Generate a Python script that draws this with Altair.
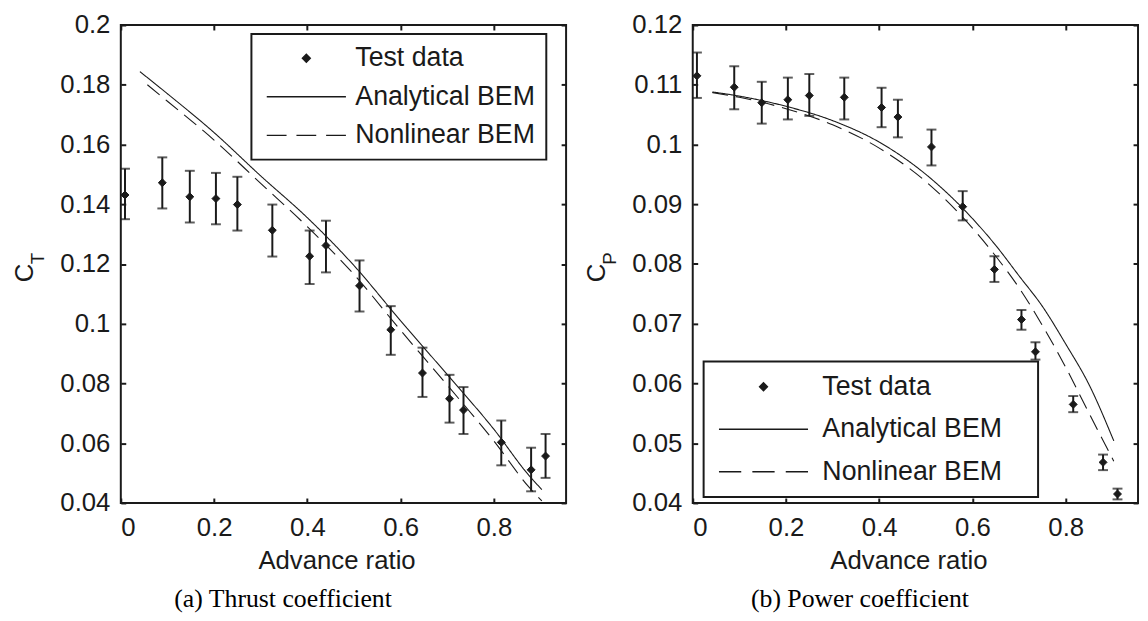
import altair as alt
import pandas as pd

# ---------------- data ----------------
advance = [0.009, 0.089, 0.148, 0.204, 0.250, 0.325, 0.405, 0.440,
           0.512, 0.579, 0.647, 0.705, 0.735, 0.816, 0.880, 0.911]

ct = [0.1431, 0.1472, 0.1425, 0.1419, 0.1399, 0.1313, 0.1226, 0.1262,
      0.1127, 0.0980, 0.0835, 0.0749, 0.0711, 0.0603, 0.0511, 0.0557]
ct_hi = [0.1519, 0.1557, 0.1512, 0.1505, 0.1492, 0.1399, 0.1312, 0.1345,
         0.1212, 0.1059, 0.0920, 0.0829, 0.0788, 0.0676, 0.0585, 0.0631]
ct_lo = [0.1350, 0.1386, 0.1339, 0.1333, 0.1312, 0.1225, 0.1133, 0.1172,
         0.1041, 0.0896, 0.0755, 0.0669, 0.0631, 0.0526, 0.0439, 0.0484]

cp = [0.1115, 0.1096, 0.1070, 0.1075, 0.1082, 0.1079, 0.1062, 0.1046,
      0.0996, 0.0896, 0.0791, 0.0707, 0.0653, 0.0565, 0.0468, 0.0415]
cp_hi = [0.1154, 0.1131, 0.1105, 0.1112, 0.1118, 0.1112, 0.1095, 0.1075,
         0.1025, 0.0922, 0.0813, 0.0723, 0.0669, 0.0579, 0.0481, 0.0424]
cp_lo = [0.1078, 0.1059, 0.1035, 0.1042, 0.1048, 0.1042, 0.1029, 0.1012,
         0.0965, 0.0873, 0.0770, 0.0690, 0.0640, 0.0552, 0.0455, 0.0406]

ct_ana_x = [0.041, 0.1, 0.2, 0.3, 0.4, 0.5, 0.6, 0.7, 0.8, 0.876, 0.903]
ct_ana_y = [0.1844, 0.1770, 0.1640, 0.1495, 0.1355, 0.1195, 0.1010, 0.0830, 0.0647, 0.0491, 0.0445]
ct_nl_x = [0.057, 0.1, 0.2, 0.3, 0.4, 0.5, 0.6, 0.7, 0.8, 0.876, 0.903]
ct_nl_y = [0.1800, 0.1745, 0.1615, 0.1470, 0.1325, 0.1165, 0.0978, 0.0795, 0.0608, 0.0452, 0.0407]

cp_curve_x = [0.042, 0.1, 0.2, 0.3, 0.4, 0.5, 0.6, 0.65, 0.7, 0.75, 0.8, 0.85, 0.903]
cp_ana_y = [0.1088, 0.1081, 0.1064, 0.1040, 0.1004, 0.0950, 0.0876, 0.0831, 0.0780, 0.0729, 0.0666, 0.0598, 0.0504]
cp_nl_y = [0.1087, 0.1079, 0.1060, 0.1033, 0.0994, 0.0938, 0.0860, 0.0813, 0.0760, 0.0697, 0.0627, 0.0550, 0.0470]

x_ticks = [0, 0.2, 0.4, 0.6, 0.8]
ct_ticks = [0.04, 0.06, 0.08, 0.1, 0.12, 0.14, 0.16, 0.18, 0.2]
cp_ticks = [0.04, 0.05, 0.06, 0.07, 0.08, 0.09, 0.1, 0.11, 0.12]

series = ["Test data", "Analytical BEM", "Nonlinear BEM"]
captions = ["(a) Thrust coefficient", "(b) Power coefficient"]

# ---------------- style ----------------
FONT = "Liberation Sans"
SERIF = "Liberation Serif"
INK = "#1a1a1a"
W, H = 450, 483
DIAMOND = "M0,-1L1,0L0,1L-1,0Z"


def legend_paths(half):
    d = half * 2 / 4.0
    solid = f"M{-half},0H{half}"
    dash = (f"M{-half},0H{-half + d}"
            f"M{-d / 2},0H{d / 2}"
            f"M{half - d},0H{half}")
    return solid, dash


def panel(yv, ylo, yhi, ax, ay, nx, ny, ydom, yticks, sub, caption, cap_dx,
          leg_x, leg_y, leg_half, leg_pad, leg_rowpad, leg_symoff,
          leg_laboff, leg_extra):
    pts = pd.DataFrame({"x": advance, "y": yv, "lo": ylo, "hi": yhi,
                        "series": series[0]})
    curves = pd.concat([
        pd.DataFrame({"x": ax, "y": ay, "series": series[1]}),
        pd.DataFrame({"x": nx, "y": ny, "series": series[2]}),
    ])
    xs = alt.Scale(domain=[0, 0.955], nice=False, zero=False)
    ys = alt.Scale(domain=ydom, nice=False, zero=False)

    common = dict(labelFont=FONT, labelFontSize=26, labelColor=INK,
                  tickColor=INK, tickWidth=2, tickSize=5, offset=-5,
                  domain=False, grid=False, titleFont=FONT,
                  titleFontSize=26, titleColor=INK, titleFontWeight="normal")
    x_bottom = alt.Axis(orient="bottom", values=x_ticks, format="~g",
                        labelPadding=12, title="Advance ratio",
                        titleX=218, titleY=71, titleBaseline="alphabetic",
                        titleAlign="center", **common)
    y_left = alt.Axis(orient="left", values=yticks, format="~g",
                      labelPadding=11, title="C", titleX=-94, titleY=250,
                      titleAngle=270, titleBaseline="alphabetic",
                      titleAlign="center", **common)
    x_top = alt.Axis(orient="top", values=x_ticks, labels=False, title=None,
                     tickColor=INK, tickWidth=2, tickSize=5, offset=-5,
                     domain=False, grid=False)
    y_right = alt.Axis(orient="right", values=yticks, labels=False,
                       title=None, tickColor=INK, tickWidth=2, tickSize=5,
                       offset=-5, domain=False, grid=False)

    base_pts = alt.Chart(pts)
    bars = base_pts.mark_rule(color=INK, strokeWidth=2).encode(
        x=alt.X("x:Q", scale=xs, axis=None),
        y=alt.Y("lo:Q", scale=ys, axis=None),
        y2="hi:Q",
    )
    cap_lo = base_pts.mark_tick(orient="horizontal", color=INK, size=10,
                                thickness=2).encode(
        x=alt.X("x:Q", scale=xs, axis=None),
        y=alt.Y("lo:Q", scale=ys, axis=None),
    )
    cap_hi = base_pts.mark_tick(orient="horizontal", color=INK, size=10,
                                thickness=2).encode(
        x=alt.X("x:Q", scale=xs, axis=None),
        y=alt.Y("hi:Q", scale=ys, axis=None),
    )
    solid_p, dash_p = legend_paths(leg_half)
    leg_kw = dict(
        orient="none", legendX=leg_x, legendY=leg_y,
        symbolSize=64, symbolStrokeWidth=1.4, symbolOpacity=1,
        symbolOffset=leg_symoff,
        labelFont=FONT, labelFontSize=27, labelColor=INK,
        labelOffset=leg_laboff, padding=leg_pad,
        rowPadding=leg_rowpad, strokeColor=INK,
        fillColor="white", labelLimit=400,
    )
    if leg_extra > 0:
        # an invisible spacer title on the right widens the legend frame
        leg_kw.update(title=".", titleColor="white", titleOrient="right",
                      titleFontSize=27, titlePadding=leg_extra)
    else:
        leg_kw.update(title=None)
    points = base_pts.mark_point(filled=False, fill=INK, stroke=INK,
                                 strokeWidth=1, size=64, opacity=1,
                                 fillOpacity=1).encode(
        x=alt.X("x:Q", scale=xs, axis=x_bottom),
        y=alt.Y("y:Q", scale=ys, axis=y_left),
        shape=alt.Shape(
            "series:N",
            scale=alt.Scale(domain=series, range=[DIAMOND, solid_p, dash_p]),
            legend=alt.Legend(**leg_kw),
        ),
    )
    lines = alt.Chart(curves).mark_line(color=INK, strokeWidth=1.1,
                                        interpolate="monotone").encode(
        x=alt.X("x:Q", scale=xs, axis=x_top),
        y=alt.Y("y:Q", scale=ys, axis=y_right),
        strokeDash=alt.StrokeDash(
            "series:N",
            scale=alt.Scale(domain=series[1:], range=[[1, 0], [16, 8]]),
            legend=None,
        ),
    )
    subscript = alt.Chart(pd.DataFrame({"t": [sub]})).mark_text(
        angle=270, align="center", baseline="alphabetic", font=FONT,
        fontSize=19, color=INK,
    ).encode(text="t:N", x=alt.value(-78), y=alt.value(236))

    return alt.layer(bars, cap_lo, cap_hi, lines, points, subscript).resolve_axis(
        x="independent", y="independent"
    ).properties(
        width=W, height=H,
        title=alt.TitleParams(caption, orient="bottom", anchor="middle",
                              frame="group", font=SERIF, fontSize=26,
                              fontWeight="normal", color="black",
                              offset=13, dx=cap_dx),
    )


left = panel(ct, ct_lo, ct_hi, ct_ana_x, ct_ana_y, ct_nl_x, ct_nl_y,
             [0.04, 0.2], ct_ticks, "T", captions[0], -61,
             132, 9, 10, 11, 11, 31, 36, 0)
right = panel(cp, cp_lo, cp_hi, cp_curve_x, cp_ana_y, cp_curve_x, cp_nl_y,
              [0.04, 0.12], cp_ticks, "P", captions[1], -56,
              11, 340, 11.25, 12, 15, 35, 46, 16)

chart = alt.hconcat(left, right, spacing=15).resolve_scale(
    x="independent", y="independent", shape="independent",
    strokeDash="independent",
).resolve_legend(shape="independent").properties(
    padding={"left": 3, "top": 0, "right": 0, "bottom": 0},
    background="white",
).configure_view(stroke=INK, strokeWidth=2).configure_legend(strokeWidth=2)

chart.save("out.html", embed_options={"renderer": "svg", "actions": False})
